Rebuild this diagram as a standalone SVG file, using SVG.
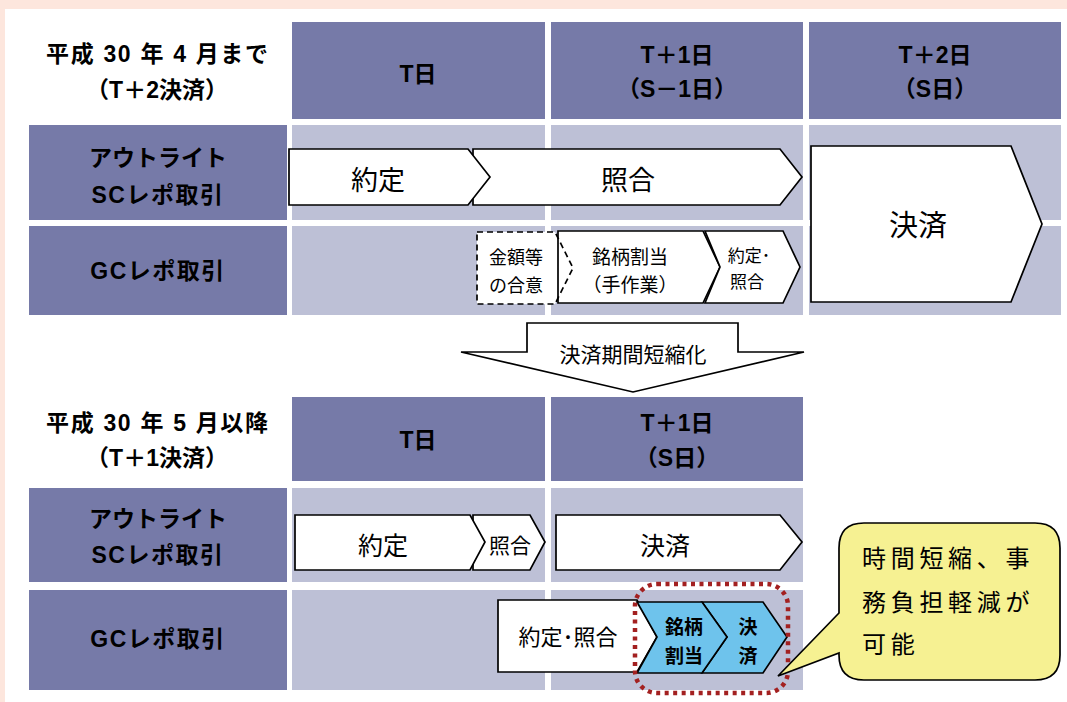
<svg xmlns="http://www.w3.org/2000/svg" width="1067" height="702" viewBox="0 0 1067 702">
<style>
.dk{fill:#767aa8}
.lt{fill:#bdc0d6}
.box{fill:#fff;stroke:#000;stroke-width:1.7;stroke-linejoin:miter}
.blue{fill:#6ec3ec;stroke:#000;stroke-width:1.7}
.lbl{font-family:"Liberation Sans","Noto Sans CJK JP",sans-serif;font-weight:bold;font-size:23px;fill:#000;text-anchor:middle}
.t{font-family:"Liberation Sans","Noto Sans CJK JP",sans-serif;fill:#000;text-anchor:middle}
.co{font-family:"Liberation Sans","Noto Sans CJK JP",sans-serif;fill:#000;font-size:24px;letter-spacing:4.7px}
</style>
<rect x="0" y="0" width="1067" height="702" fill="#fde6dd"/>
<rect x="5" y="9" width="1062" height="693" fill="#fff"/>

<g id="upper-title">
<text class="lbl" x="157" y="62" textLength="222">平成 30 年 4 月まで</text>
<text class="lbl" x="157" y="98">（T＋2決済）</text>
</g>
<g id="upper-head-T">
<rect class="dk" x="292" y="22" width="253" height="97"/>
<text class="lbl" x="418" y="82">T日</text>
</g>
<g id="upper-head-T1">
<rect class="dk" x="551" y="22" width="252" height="97"/>
<text class="lbl" x="677" y="63">T＋1日</text>
<text class="lbl" x="677" y="97">（S－1日）</text>
</g>
<g id="upper-head-T2">
<rect class="dk" x="809" y="22" width="252" height="97"/>
<text class="lbl" x="935" y="63">T＋2日</text>
<text class="lbl" x="935" y="97">（S日）</text>
</g>
<g id="upper-row-sc">
<rect class="dk" x="29" y="125" width="258" height="95"/>
<text class="lbl" x="158" y="166">アウトライト</text>
<text class="lbl" x="158" y="203" letter-spacing="1.5">SCレポ取引</text>
<rect class="lt" x="292" y="125" width="253" height="95"/>
<rect class="lt" x="551" y="125" width="252" height="95"/>
<rect class="lt" x="809" y="125" width="252" height="95"/>
</g>
<g id="upper-row-gc">
<rect class="dk" x="29" y="226" width="258" height="89"/>
<text class="lbl" x="158" y="279" letter-spacing="1.5">GCレポ取引</text>
<rect class="lt" x="292" y="226" width="253" height="89"/>
<rect class="lt" x="551" y="226" width="252" height="89"/>
<rect class="lt" x="809" y="226" width="252" height="89"/>
</g>

<g id="u-shogo">
<path class="box" d="M473,149 H780 L802,177 L780,205 H473 Z"/>
<text class="t" x="628" y="190" font-size="27">照合</text>
</g>
<g id="u-yakujo">
<path class="box" d="M289,149 H468 L490,177 L468,205 H289 Z"/>
<text class="t" x="378" y="190" font-size="27">約定</text>
</g>
<g id="u-kessai">
<path class="box" d="M811,146 H1011 L1042,224 L1011,302 H811 Z"/>
<text class="t" x="918" y="236" font-size="29">決済</text>
</g>
<g id="u-kingaku">
<path d="M477,232 H555 L573,268 L555,304 H477 Z" fill="#fff"/>
<path class="box" d="M558,231 H703 L720,267 L703,303 H558 Z"/>
<path d="M477,232 H555 L573,268 L555,304 H477 Z" fill="none" stroke="#000" stroke-width="1.7" stroke-dasharray="6 4"/>
<text class="t" x="516" y="264" font-size="18">金額等</text>
<text class="t" x="516" y="292" font-size="18">の合意</text>
</g>
<g id="u-meigara">
<text class="t" x="630" y="264" font-size="19">銘柄割当</text>
<text class="t" x="630" y="292" font-size="19">（手作業）</text>
</g>
<g id="u-yakujo-shogo">
<path class="box" d="M705,231 H783 L800,267 L783,303 H705 L720,267 Z"/>
<text class="t" x="749" y="262" font-size="17">約定･</text>
<text class="t" x="747" y="288" font-size="17">照合</text>
</g>

<g id="shorten-arrow">
<path class="box" d="M527,323 H738 V352 H804 L633,392 L461,352 H527 Z"/>
<text class="t" x="633" y="362" font-size="21">決済期間短縮化</text>
</g>

<g id="lower-title">
<text class="lbl" x="157" y="431" textLength="222">平成 30 年 5 月以降</text>
<text class="lbl" x="157" y="466">（T＋1決済）</text>
</g>
<g id="lower-head-T">
<rect class="dk" x="292" y="397" width="253" height="84"/>
<text class="lbl" x="418" y="448">T日</text>
</g>
<g id="lower-head-T1">
<rect class="dk" x="551" y="397" width="252" height="84"/>
<text class="lbl" x="677" y="431">T＋1日</text>
<text class="lbl" x="677" y="466">（S日）</text>
</g>
<g id="lower-row-sc">
<rect class="dk" x="29" y="488" width="258" height="94"/>
<text class="lbl" x="158" y="527">アウトライト</text>
<text class="lbl" x="158" y="563" letter-spacing="1.5">SCレポ取引</text>
<rect class="lt" x="292" y="488" width="253" height="94"/>
<rect class="lt" x="551" y="488" width="252" height="94"/>
</g>
<g id="lower-row-gc">
<rect class="dk" x="29" y="590" width="258" height="100"/>
<text class="lbl" x="158" y="647" letter-spacing="1.5">GCレポ取引</text>
<rect class="lt" x="292" y="590" width="253" height="100"/>
<rect class="lt" x="551" y="590" width="252" height="100"/>
</g>

<g id="l-shogo">
<path class="box" d="M473,515 H530 L545,542 L530,570 H473 Z"/>
<text class="t" x="510" y="553" font-size="21">照合</text>
</g>
<g id="l-yakujo">
<path class="box" d="M295,515 H470 L485,542 L470,570 H295 Z"/>
<text class="t" x="383" y="555" font-size="25">約定</text>
</g>
<g id="l-kessai">
<path class="box" d="M556,515 H780 L802,542 L780,570 H556 Z"/>
<text class="t" x="665" y="555" font-size="25">決済</text>
</g>
<g id="l-yakujo-shogo">
<path class="box" d="M498,600 H637 L657,637 L637,672 H498 Z"/>
<text class="t" x="568" y="645" font-size="22">約定･照合</text>
</g>
<g id="l-kessai-blue">
<path class="blue" d="M702,602 H763 L787,637 L763,673 H702 L727,637 Z"/>
<text class="t" x="748" y="634" font-size="19" font-weight="bold">決</text>
<text class="t" x="748" y="663" font-size="19" font-weight="bold">済</text>
</g>
<g id="l-meigara-blue">
<path class="blue" d="M637,602 H702 L727,637 L702,673 H637 L657,637 Z"/>
<text class="t" x="684" y="634" font-size="19" font-weight="bold">銘柄</text>
<text class="t" x="684" y="663" font-size="19" font-weight="bold">割当</text>
</g>
<g id="highlight">
<rect x="635" y="584" width="153" height="109" rx="22" fill="none" stroke="#a32020" stroke-width="4.5" stroke-dasharray="4 4.5"/>
</g>
<g id="callout">
<path d="M864,523 H1035 Q1060,523 1060,548 V655 Q1060,680 1035,680 H864 Q839,680 839,655 V653 L778,676 L839,613 V548 Q839,523 864,523 Z" fill="#f6f192" stroke="#000" stroke-width="1.7"/>
<text class="co" x="862" y="567">時間短縮、事</text>
<text class="co" x="862" y="611">務負担軽減が</text>
<text class="co" x="862" y="653">可能</text>
</g>
</svg>
